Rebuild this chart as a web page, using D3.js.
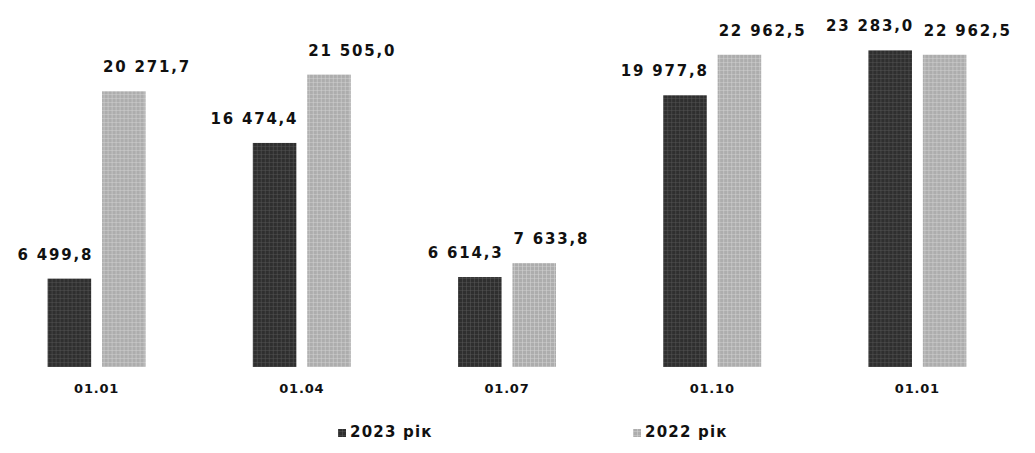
<!DOCTYPE html>
<html>
<head>
<meta charset="utf-8">
<script src="https://cdn.jsdelivr.net/npm/d3@7"></script>
<style>
  html, body { margin: 0; padding: 0; background: #fff; }
  svg { display: block; }
  text { font-family: "DejaVu Sans", sans-serif; font-weight: bold; fill: #111; }
</style>
</head>
<body>
<svg id="chart" width="1035" height="453"></svg>
<script>
// ---- data ----
const categories = ["01.01", "01.04", "01.07", "01.10", "01.01"];
const seriesNames = ["2023 рік", "2022 рік"];
const values2023 = [6499.8, 16474.4, 6614.3, 19977.8, 23283.0];
const values2022 = [20271.7, 21505.0, 7633.8, 22962.5, 22962.5];
const valueLabels2023 = ["6 499,8", "16 474,4", "6 614,3", "19 977,8", "23 283,0"];
const valueLabels2022 = ["20 271,7", "21 505,0", "7 633,8", "22 962,5", "22 962,5"];

const colors = ["#2f2f2f", "#adadad"];

const svg = d3.select("#chart");

// textures to mimic the scanned dither
const defs = svg.append("defs");
function makePattern(id, base, line) {
  const p = defs.append("pattern").attr("id", id)
    .attr("patternUnits", "userSpaceOnUse").attr("width", 4).attr("height", 4);
  p.append("rect").attr("width", 4).attr("height", 4).attr("fill", base);
  p.append("rect").attr("x", 0).attr("y", 0).attr("width", 1).attr("height", 4).attr("fill", line).attr("opacity", 0.5);
  p.append("rect").attr("x", 0).attr("y", 2).attr("width", 4).attr("height", 1).attr("fill", line).attr("opacity", 0.4);
}
makePattern("pat0", colors[0], "#5a5a5a");
makePattern("pat1", colors[1], "#d8d8d8");

const idx = d3.range(categories.length);
const x0 = d3.scaleBand().domain(idx).range([-6, 1020]).padding(0);
const x1 = d3.scaleBand().domain([0, 1]).range([0, 98]).paddingInner(0.2).paddingOuter(0);
const y = d3.scaleLinear().domain([0, 25000]).range([367, 27]);

const groups = svg.append("g").selectAll("g").data(idx).join("g")
  .attr("transform", i => `translate(${x0(i) + x0.bandwidth() / 2 - 49},0)`);

const seriesVals = [values2023, values2022];
const seriesLabels = [valueLabels2023, valueLabels2022];

groups.each(function(i) {
  const g = d3.select(this);
  [0, 1].forEach(s => {
    const v = seriesVals[s][i];
    g.append("rect")
      .attr("x", x1(s))
      .attr("y", y(v))
      .attr("width", x1.bandwidth())
      .attr("height", y(0) - y(v))
      .attr("fill", `url(#pat${s})`);
    g.append("text")
      .attr("x", s === 0 ? x1(s) + x1.bandwidth() + 2 : x1(s) + 1)
      .attr("y", y(v) - 19)
      .attr("text-anchor", s === 0 ? "end" : "start")
      .attr("font-size", 15)
      .attr("letter-spacing", 1.8)
      .text(seriesLabels[s][i]);
  });
});

// category axis labels
const xAxis = d3.axisBottom(x0).tickSize(0).tickFormat(i => categories[i]);
const ax = svg.append("g").attr("transform", "translate(0,381)").call(xAxis);
ax.select(".domain").remove();
ax.selectAll("text")
  .attr("font-size", 13)
  .attr("letter-spacing", 0.8)
  .style("font-family", "'DejaVu Sans', sans-serif")
  .style("font-weight", "bold")
  .attr("fill", "#111");

// legend
const legendX = [338, 633];
const legend = svg.append("g").selectAll("g").data(seriesNames).join("g")
  .attr("transform", (d, i) => `translate(${legendX[i]},437)`);
legend.append("rect").attr("x", 0).attr("y", -8).attr("width", 8).attr("height", 8)
  .attr("fill", (d, i) => `url(#pat${i})`);
legend.append("text").attr("x", 12).attr("y", 0)
  .attr("font-size", 15).attr("letter-spacing", 1.2)
  .text(d => d);
</script>
</body>
</html>
